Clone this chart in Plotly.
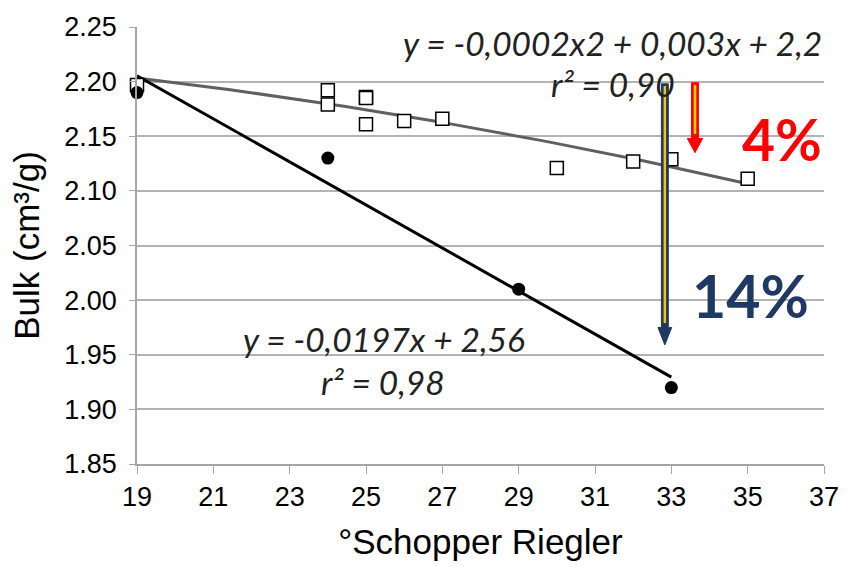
import numpy as np
import plotly.graph_objects as go

# Refined pulp (open squares) and reference pulp (filled circles)
sr_sq = [19, 24, 24, 25, 25, 25, 26, 27, 30, 32, 33, 35]
bulk_sq = [2.197, 2.192, 2.179, 2.186, 2.185, 2.161, 2.164, 2.166, 2.121, 2.127, 2.129, 2.111]
sr_ci = [19, 24, 29, 33]
bulk_ci = [2.190, 2.130, 2.010, 1.920]

x_ticks = list(range(19, 38, 2))
y_ticks = [1.85, 1.90, 1.95, 2.00, 2.05, 2.10, 2.15, 2.20, 2.25]

# Trend lines fitted to each series
quad = np.polyfit(sr_sq, bulk_sq, 2)
lin = np.polyfit(sr_ci, bulk_ci, 1)
xq = np.linspace(min(sr_sq), max(sr_sq), 60)
xl = np.array([min(sr_ci), max(sr_ci)])

fig = go.Figure()
fig.add_trace(go.Scatter(x=xq, y=np.polyval(quad, xq), mode="lines",
                         line=dict(color="#606060", width=3), hoverinfo="skip"))
fig.add_trace(go.Scatter(x=xl, y=np.polyval(lin, xl), mode="lines",
                         line=dict(color="black", width=3), hoverinfo="skip"))
fig.add_trace(go.Scatter(x=sr_sq, y=bulk_sq, mode="markers", cliponaxis=False,
                         marker=dict(symbol="square", size=13, color="white",
                                     line=dict(color="black", width=1.5))))
fig.add_trace(go.Scatter(x=sr_ci, y=bulk_ci, mode="markers", cliponaxis=False,
                         marker=dict(symbol="circle", size=13, color="black")))


def block_arrow(x, y_top, y_tip, fill, stripe, shaft_hw=0.09, head_hw=0.18, head_len=0.016):
    yh = y_tip + head_len
    path = (f"M {x - shaft_hw},{y_top} L {x + shaft_hw},{y_top} L {x + shaft_hw},{yh} "
            f"L {x + head_hw},{yh} L {x},{y_tip} L {x - head_hw},{yh} L {x - shaft_hw},{yh} Z")
    fig.add_shape(type="path", path=path, xref="x", yref="y",
                  fillcolor=fill, line=dict(color=fill, width=1), layer="above")
    fig.add_shape(type="line", x0=x, x1=x, y0=y_top - 0.002, y1=yh + 0.004,
                  xref="x", yref="y", line=dict(color=stripe, width=2.5), layer="above")


block_arrow(32.83, 2.198, 1.959, "#1F3864", "#FFC000")
block_arrow(33.62, 2.199, 2.135, "#FF0000", "#FFD700", shaft_hw=0.09, head_hw=0.2, head_len=0.013)

# Plot-area geometry in pixels, used to place free text
PL, PR, PT, PB = 137, 832, 19, 465


def to_paper(px, py):
    return (px - PL) / (PR - PL), (PB - py) / (PB - PT)


eq_font = dict(family="Lato, 'Open Sans', sans-serif", size=33.5, color="#222222")
notes = [
    ("<i>y = -0,0002x2 + 0,003x + 2,2</i>", 618, 35),
    ("<i>r² = 0,90</i>", 619, 77),
    ("<i>y = -0,0197x + 2,56</i>", 387, 337),
    ("<i>r² = 0,98</i>", 386, 381),
]
for txt, px, py in notes:
    xp, yp = to_paper(px, py)
    fig.add_annotation(text=txt, x=xp, y=yp, xref="paper", yref="paper",
                       xanchor="center", yanchor="middle", showarrow=False, font=eq_font)

for txt, px, py, col, sz in [("<b>4%</b>", 790, 133, "#FF0000", 57),
                             ("<b>14%</b>", 758, 293, "#1F3864", 59)]:
    xp, yp = to_paper(px, py)
    fig.add_annotation(text=txt, x=xp, y=yp, xref="paper", yref="paper",
                       xanchor="center", yanchor="middle", showarrow=False,
                       font=dict(family="Lato, 'Open Sans', sans-serif", size=sz, color=col))

axis_font = dict(family="Liberation Sans, Arial, sans-serif", size=27, color="black")
title_font = dict(family="Liberation Sans, Arial, sans-serif", size=35, color="black")
fig.update_layout(
    width=851, height=567,
    margin=dict(l=PL, r=851 - PR, t=PT, b=567 - PB),
    paper_bgcolor="white", plot_bgcolor="white",
    showlegend=False,
    xaxis=dict(range=[19, 37], tickvals=x_ticks, ticktext=[str(v) for v in x_ticks],
               showgrid=False, zeroline=False, showline=True, linecolor="#A6A6A6",
               linewidth=1.5, ticks="outside", ticklen=8, tickcolor="#A6A6A6",
               tickfont=axis_font,
               title=dict(text="°Schopper Riegler", font=title_font, standoff=18)),
    yaxis=dict(range=[1.85, 2.25], tickvals=y_ticks, ticktext=[f"{v:.2f}" for v in y_ticks],
               showgrid=True, gridcolor="#B3B3B3", gridwidth=1.5, zeroline=False,
               showline=True, linecolor="#A6A6A6", linewidth=1.5,
               ticks="outside", ticklen=6, tickcolor="#A6A6A6", tickfont=axis_font,
               ticklabelstandoff=7,
               title=dict(text="Bulk (cm³/g)", font=title_font, standoff=14)),
)

fig.write_html("out.html")
